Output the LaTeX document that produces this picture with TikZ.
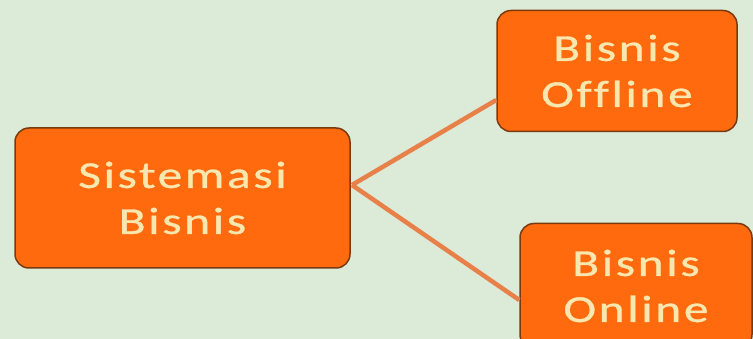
\documentclass[tikz,border=0pt]{standalone}
\usepackage{fontspec}
\setmainfont{Carlito}
\newfontfamily\boxfont[FakeStretch=1.3,FakeBold=0.8,LetterSpace=7,Ligatures=NoCommon]{Carlito}
\definecolor{bg}{HTML}{DCEBD8}
\definecolor{boxfill}{HTML}{FF6A0E}
\definecolor{boxline}{HTML}{7A3A10}
\definecolor{txt}{HTML}{F8E8B0}
\definecolor{conn}{HTML}{E8804A}
\begin{document}
\begin{tikzpicture}[x=1pt,y=-1pt,
  box/.style={draw=boxline,line width=1.5pt,fill=boxfill,rounded corners=14pt,
    text=txt,align=center,inner sep=0pt,font=\boxfont\fontsize{38}{46}\selectfont},
  link/.style={draw=conn,line width=4.5pt}]
\fill[bg] (0,0) rectangle (753,339);
\useasboundingbox (0,0) rectangle (753,339);
\node[box,minimum width=335pt,minimum height=140pt] (sb) at (182.5,198) {Sistemasi\\Bisnis};
\node[box,minimum width=240pt,minimum height=121pt] (off) at (617,71) {Bisnis\\Offline};
\node[box,minimum width=232pt,minimum height=125pt] (on) at (636,286) {Bisnis\\Online};
\coordinate (s1) at (352,185);
\coordinate (t1) at (off.west |- 0,100);
\coordinate (t2) at (on.west |- 0,300);
\draw[link] (s1) -- (t1);
\draw[link] (s1) -- (t2);
\end{tikzpicture}
\end{document}
